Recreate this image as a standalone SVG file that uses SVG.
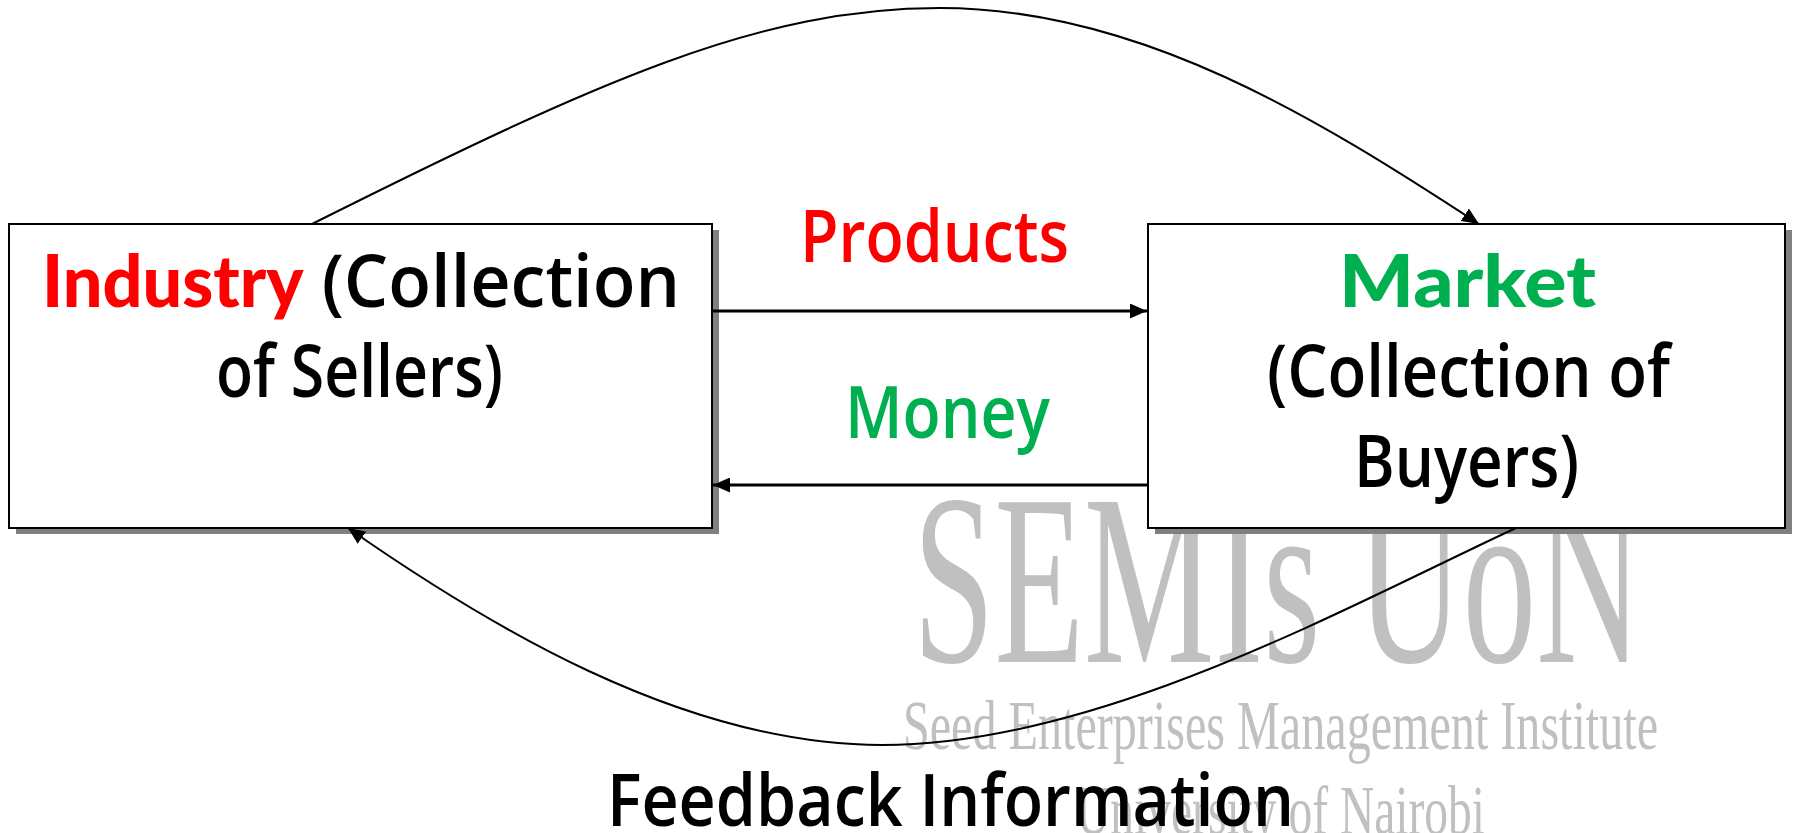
<svg xmlns="http://www.w3.org/2000/svg" width="1796" height="833" viewBox="0 0 1796 833">
  <style>
    .wm { font-family: "Liberation Serif", "Times New Roman", serif; fill: #c0c0c0; }
    .box { fill: #ffffff; stroke: #000000; stroke-width: 2; }
    .shadow { fill: #808080; }
    .lbl { font-family: "Open Sans", "Noto Sans", sans-serif; font-weight: 600; font-size: 72px; fill: #000000; }
    .deco { font-family: "Lato", "DejaVu Sans", sans-serif; font-weight: 900; font-size: 72px; }
    .curve { fill: none; stroke: #000000; stroke-width: 2; }
    .straight { fill: none; stroke: #000000; stroke-width: 3; }
  </style>
  <defs>
    <marker id="ah" viewBox="0 0 17 15" refX="17" refY="7.5" markerWidth="17" markerHeight="15" markerUnits="userSpaceOnUse" orient="auto">
      <path d="M0,0 L17,7.5 L0,15 z" fill="#000000"/>
    </marker>
  </defs>
  <rect width="1796" height="833" fill="#ffffff"/>

  <g id="watermark">
    <text class="wm" x="913" y="662" font-size="244" textLength="729" lengthAdjust="spacingAndGlyphs">SEMIs UoN</text>
    <text class="wm" x="903" y="749" font-size="70" textLength="755" lengthAdjust="spacingAndGlyphs">Seed Enterprises Management Institute</text>
    <text class="wm" x="1076" y="834" font-size="70" textLength="409" lengthAdjust="spacingAndGlyphs">University of Nairobi</text>
  </g>

  <g id="industry">
    <rect class="shadow" x="16" y="230" width="703" height="304"/>
    <rect class="box" x="9" y="224" width="703" height="304"/>
    <text x="42" y="307" textLength="638" lengthAdjust="spacingAndGlyphs"><tspan class="deco" fill="#ff0000">Industry</tspan><tspan class="lbl"> (Collection</tspan></text>
    <text class="lbl" x="216" y="397" textLength="287" lengthAdjust="spacingAndGlyphs">of Sellers)</text>
  </g>

  <g id="market">
    <rect class="shadow" x="1155" y="230" width="637" height="304"/>
    <rect class="box" x="1148" y="224" width="637" height="304"/>
    <text class="deco" x="1339" y="307" fill="#00b050" textLength="257" lengthAdjust="spacingAndGlyphs">Market</text>
    <text class="lbl" x="1267" y="397" textLength="403" lengthAdjust="spacingAndGlyphs">(Collection of</text>
    <text class="lbl" x="1354" y="487" textLength="225" lengthAdjust="spacingAndGlyphs">Buyers)</text>
  </g>

  <g id="connectors">
    <line class="straight" x1="713" y1="311" x2="1147" y2="311" marker-end="url(#ah)"/>
    <line class="straight" x1="1148" y1="485" x2="713" y2="485" marker-end="url(#ah)"/>
    <path class="curve" d="M312,224 C600,80 760,8 940,8 C1140,8 1320,120 1479,224" marker-end="url(#ah)"/>
    <path class="curve" d="M1516,528 C1350,605 1100,745 882,745 C680,745 480,620 348,528" marker-end="url(#ah)"/>
  </g>

  <g id="labels">
    <text class="lbl" x="800" y="262" style="fill:#ff0000" textLength="269" lengthAdjust="spacingAndGlyphs">Products</text>
    <text class="lbl" x="845" y="438" style="fill:#00b050" textLength="205" lengthAdjust="spacingAndGlyphs">Money</text>
    <text class="lbl" x="607" y="826" textLength="687" lengthAdjust="spacingAndGlyphs">Feedback Information</text>
  </g>
</svg>
